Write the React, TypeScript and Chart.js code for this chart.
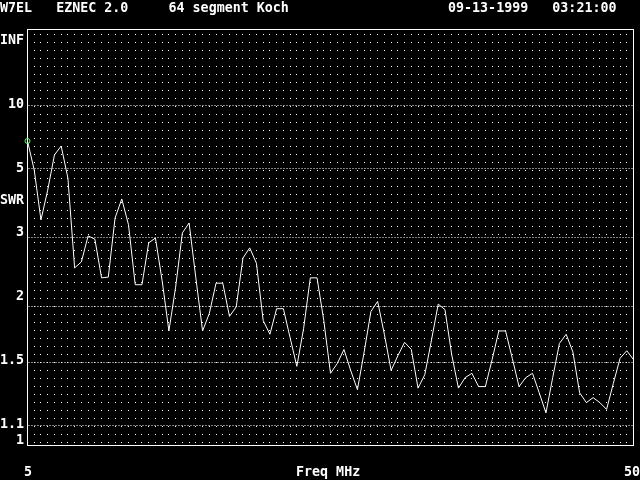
import { useEffect, useRef } from "react";
import { Chart, registerables } from "chart.js";

Chart.register(...registerables);

// ---- data ----
const freqMHz = [
  5, 5.5, 6, 6.5, 7, 7.5, 8, 8.5, 9, 9.5,
  10, 10.5, 11, 11.5, 12, 12.5, 13, 13.5, 14, 14.5,
  15, 15.5, 16, 16.5, 17, 17.5, 18, 18.5, 19, 19.5,
  20, 20.5, 21, 21.5, 22, 22.5, 23, 23.5, 24, 24.5,
  25, 25.5, 26, 26.5, 27, 27.5, 28, 28.5, 29, 29.5,
  30, 30.5, 31, 31.5, 32, 32.5, 33, 33.5, 34, 34.5,
  35, 35.5, 36, 36.5, 37, 37.5, 38, 38.5, 39, 39.5,
  40, 40.5, 41, 41.5, 42, 42.5, 43, 43.5, 44, 44.5,
  45, 45.5, 46, 46.5, 47, 47.5, 48, 48.5, 49, 49.5,
  50,
];

const swr = [
  6.46, 4.92, 3.37, 4.18, 5.63, 6.14, 4.6, 2.49, 2.58, 3.03,
  2.97, 2.35, 2.36, 3.41, 3.91, 3.26, 2.26, 2.26, 2.9, 2.99,
  2.31, 1.76, 2.23, 3.09, 3.3, 2.35, 1.76, 1.93, 2.28, 2.28,
  1.9, 2.0, 2.64, 2.81, 2.56, 1.86, 1.73, 1.98, 1.98, 1.7,
  1.47, 1.78, 2.35, 2.35, 1.86, 1.42, 1.49, 1.6, 1.44, 1.31,
  1.58, 1.95, 2.06, 1.73, 1.44, 1.55, 1.66, 1.6, 1.32, 1.41,
  1.68, 2.03, 1.97, 1.56, 1.32, 1.39, 1.42, 1.33, 1.33, 1.52,
  1.76, 1.76, 1.53, 1.33, 1.39, 1.42, 1.29, 1.17, 1.39, 1.65,
  1.73, 1.58, 1.29, 1.23, 1.26, 1.23, 1.19, 1.35, 1.53, 1.59,
  1.52,
];

const swrTickValues = [Infinity, 10, 5, 3, 2, 1.5, 1.1, 1];
const swrTickLabels = ["INF", "10", "5", "3", "2", "1.5", "1.1", "1"];
const swrGridValues = [10, 5, 3, 2, 1.5, 1.1];

const xMin = 5;
const xMax = 50;
const xGridStep = 0.5;
const xLabelMin = "5";
const xLabelMax = "50";
const xTitle = "Freq MHz";
const yTitle = "SWR";

const headerLeft = "W7EL   EZNEC 2.0     64 segment Koch";
const headerRight = "09-13-1999   03:21:00";

// ---- helpers ----
const toRho = (s: number) => (Number.isFinite(s) ? (s - 1) / (s + 1) : 1);

const FONT = 'bold 13.33px "DejaVu Sans Mono", "Liberation Mono", monospace';
const CELL_W = 8;
const CELL_H = 16;
const BASELINE = 12;
const FG = "#ffffff";
const MARKER = "#66ff66";

const backgroundPlugin = {
  id: "dosBackground",
  beforeDraw(chart: any) {
    const { ctx, width, height } = chart;
    ctx.save();
    ctx.fillStyle = "#000000";
    ctx.fillRect(0, 0, width, height);
    ctx.restore();
  },
};

const borderPlugin = {
  id: "dosBorder",
  beforeDatasetsDraw(chart: any) {
    const { ctx, chartArea } = chart;
    ctx.save();
    ctx.strokeStyle = FG;
    ctx.lineWidth = 1;
    ctx.strokeRect(
      chartArea.left,
      chartArea.top,
      chartArea.right - chartArea.left,
      chartArea.bottom - chartArea.top
    );
    ctx.restore();
  },
};

const textPlugin = {
  id: "dosText",
  afterDraw(chart: any) {
    const { ctx, chartArea, scales } = chart;
    const y = scales.y;
    const x = scales.x;
    ctx.save();
    ctx.fillStyle = FG;
    ctx.font = FONT;
    ctx.textAlign = "left";
    ctx.textBaseline = "alphabetic";
    const put = (t: string, col: number, row: number) =>
      ctx.fillText(t, col * CELL_W, row * CELL_H + BASELINE);

    // header line (text row 0)
    put(headerLeft, 0, 0);
    put(headerRight, 56, 0);

    // y labels snapped to text rows, right-aligned ending at col 3
    const firstRow = Math.ceil(chartArea.top / CELL_H);
    const rows: number[] = [];
    swrTickValues.forEach((v, i) => {
      const py = y.getPixelForValue(toRho(v));
      const row = Math.max(Math.floor((py - CELL_H / 2) / CELL_H), firstRow);
      rows.push(row);
      const lbl = swrTickLabels[i];
      put(lbl, 3 - lbl.length, row);
    });
    // axis title between 5 and 3
    put(yTitle, 0, Math.round((rows[2] + rows[3]) / 2));

    // x labels on last text row
    const lastRow = Math.floor(chart.height / CELL_H) - 1;
    const leftCol = Math.floor(x.getPixelForValue(xMin) / CELL_W);
    const rightCol = Math.floor(x.getPixelForValue(xMax) / CELL_W);
    put(xLabelMin, leftCol, lastRow);
    put(xLabelMax, rightCol - xLabelMax.length + 1, lastRow);
    const midCol = (chartArea.left + chartArea.right) / 2 / CELL_W;
    put(xTitle, Math.round(midCol - xTitle.length / 2), lastRow);
    ctx.restore();
  },
};

export default function App() {
  const ref = useRef<HTMLCanvasElement>(null);

  useEffect(() => {
    document.body.style.margin = "0";
    document.body.style.background = "#000000";
    const canvas = ref.current;
    if (!canvas) return;

    const points = freqMHz.map((f, i) => ({ x: f, y: toRho(swr[i]) }));

    const chart = new Chart(canvas, {
      type: "line",
      data: {
        datasets: [
          {
            data: points,
            borderColor: FG,
            borderWidth: 1,
            tension: 0,
            fill: false,
            clip: false as any,
            pointRadius: (c: any) => (c.dataIndex === 0 ? 2.5 : 0),
            pointBorderColor: MARKER,
            pointBackgroundColor: "rgba(0,0,0,0)",
            pointBorderWidth: 1,
            pointHoverRadius: 0,
          },
        ],
      },
      options: {
        animation: false,
        responsive: false,
        devicePixelRatio: 1,
        events: [],
        layout: {
          padding: { left: 27.5, top: 29.5, right: 6.5, bottom: 34.5 },
        },
        plugins: {
          legend: { display: false },
          tooltip: { enabled: false },
          title: { display: false },
        },
        scales: {
          x: {
            type: "linear",
            min: xMin,
            max: xMax,
            afterBuildTicks: (scale: any) => {
              const t: { value: number }[] = [];
              for (let v = xMin; v <= xMax + 1e-9; v += xGridStep) t.push({ value: v });
              scale.ticks = t;
            },
            afterFit: (scale: any) => {
              scale.height = 0;
            },
            ticks: { display: false },
            border: { display: false, dash: [1, 7], dashOffset: 3.5 },
            grid: {
              display: true,
              drawTicks: false,
              color: FG,
              lineWidth: 1,
            },
          },
          y: {
            type: "linear",
            min: 0,
            max: 1,
            afterBuildTicks: (scale: any) => {
              scale.ticks = swrGridValues.map((v) => ({ value: toRho(v) }));
            },
            afterFit: (scale: any) => {
              scale.width = 0;
            },
            ticks: { display: false },
            border: { display: false, dash: [1, 2], dashOffset: 2.5 },
            grid: {
              display: true,
              drawTicks: false,
              color: FG,
              lineWidth: 1,
            },
          },
        },
      },
      plugins: [backgroundPlugin, borderPlugin, textPlugin],
    } as any);

    return () => chart.destroy();
  }, []);

  return (
    <canvas
      ref={ref}
      width={640}
      height={480}
      style={{ display: "block", width: 640, height: 480 }}
    />
  );
}
